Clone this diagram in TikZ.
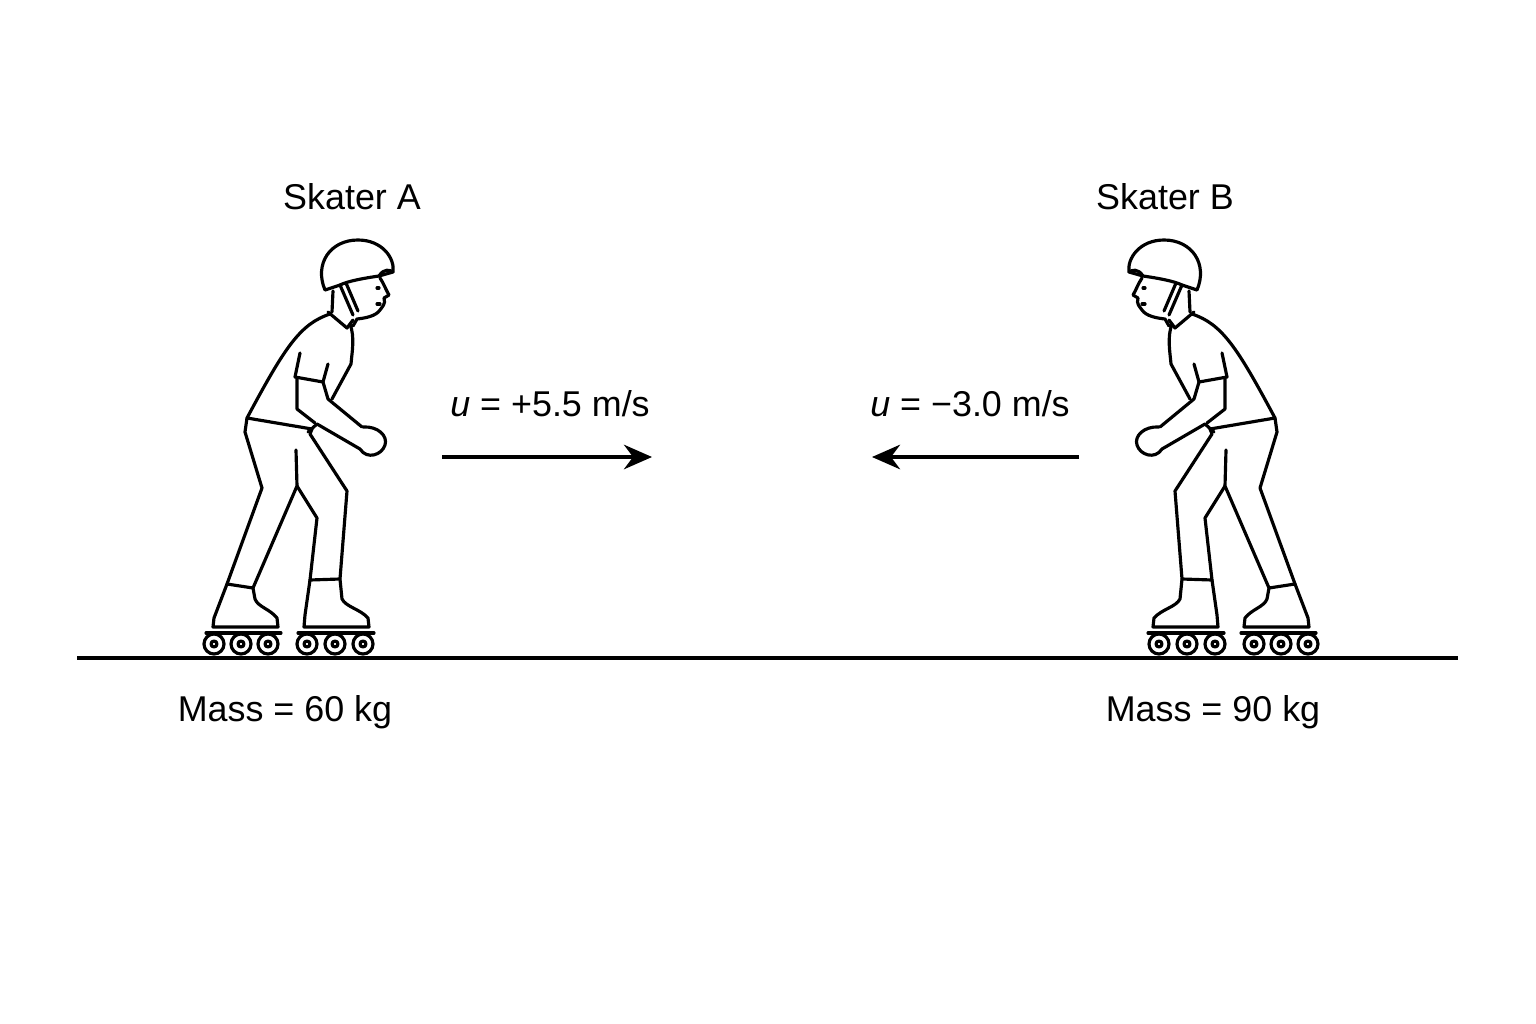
\documentclass[tikz,border=0pt]{standalone}
\usepackage{fontspec}
\setmainfont{Liberation Sans}
\usetikzlibrary{arrows.meta}
\tikzset{
  body/.style={line width=0.9pt, line join=round, line cap=round},
  lbl/.style={font=\fontsize{10.2}{12}\selectfont, inner sep=0pt},
  vel/.style={line width=0.9pt, -{Stealth[length=8pt,width=7pt]}},
  skater/.pic={
    % helmet
    \draw[body, fill=white] (325,290) .. controls (314,264) and (330,240) .. (358,240)
      .. controls (382,240) and (395,258) .. (393,272) -- (379,276)
      .. controls (365,278) and (348,281) .. (340,285) -- cycle;
    \draw[body] (379,276) .. controls (384,268) and (390,270) .. (393,272);
    % face and neck
    \draw[body] (380,278) .. controls (384,284) and (385,288) .. (389,295)
      -- (384,298) .. controls (386,304) and (382,307) .. (380,310)
      .. controls (376,316) and (366,318) .. (357,319) -- (353,326);
    \draw[body] (377,288) -- (379,288);
    \draw[body] (377,304) -- (380,304);
    \draw[body] (333,291) -- (332,312);
    \draw[body] (340,285) -- (353,315);
    \draw[body] (346,283) -- (358,311);
    % shirt
    \draw[body] (328,312) -- (347,328) -- (353,320);
    \draw[body] (330,314) .. controls (300,324) and (285,347) .. (247,418) -- (312,429);
    \draw[body] (350,324) .. controls (355,337) and (352,352) .. (351,364)
      -- (332,399);
    \draw[body] (300,353) -- (295,377) -- (323,382) -- (328,364);
    % arm
    \draw[body] (297,378) -- (297,409) -- (315,423);
    \draw[body] (323,382) -- (328,399) -- (362,427);
    \draw[body] (308,432) -- (317,424);
    \draw[body] (363,427) .. controls (378,426) and (388,436) .. (385,445)
      .. controls (382,455) and (367,460) .. (360,449) -- (317,424);
    % legs
    \draw[body] (247,418) -- (245,432) -- (262,488) -- (227,584) -- (253,588) -- (297,486) -- (296,450);
    \draw[body] (312,429) -- (310,434) -- (347,491) -- (340,579) -- (310,580) -- (317,518) -- (297,486);
    % boots
    \draw[body] (227,584) -- (214,618) -- (213,627) -- (278,627) -- (277,618)
      .. controls (270,609) and (258,607) .. (255,599) -- (253,588);
    \draw[body] (310,580) -- (305,615) -- (304,627) -- (369,627) -- (368,618)
      .. controls (360,609) and (346,607) .. (342,599) -- (340,579);
    \draw[body] (206,633) -- (281,633);
    \draw[body] (298,633) -- (374,633);
    \foreach \wx in {214,241,268,307,335,363}{
      \draw[body] (\wx,644) circle[radius=10];
      \draw[body] (\wx,644) circle[radius=3];
    }
  }
}
\begin{document}
\begin{tikzpicture}[x=0.01cm, y=-0.01cm]
\useasboundingbox (0,0) rectangle (1536,1024);

\draw[line width=0.9pt] (77,658) -- (1458,658);

\pic at (0,0) {skater};
\pic[xscale=-1] at (1522,0) {skater};

\node[lbl] (nameA) at (352,197) {Skater A};
\node[lbl] (nameB) at (1165,197) {Skater B};

\node[lbl] (velA) at (550,404) {\textit{u} = +5.5 m/s};
\node[lbl] (velB) at (970,404) {\textit{u} = −3.0 m/s};

\coordinate (a1) at (442,457);
\coordinate (a2) at (652,457);
\coordinate (b1) at (1079,457);
\coordinate (b2) at (872,457);
\draw[vel] (a1) -- (a2);
\draw[vel] (b1) -- (b2);

\node[lbl] (massA) at (285,712) {Mass = 60 kg};
\node[lbl] (massB) at (1213,712) {Mass = 90 kg};
\end{tikzpicture}
\end{document}
